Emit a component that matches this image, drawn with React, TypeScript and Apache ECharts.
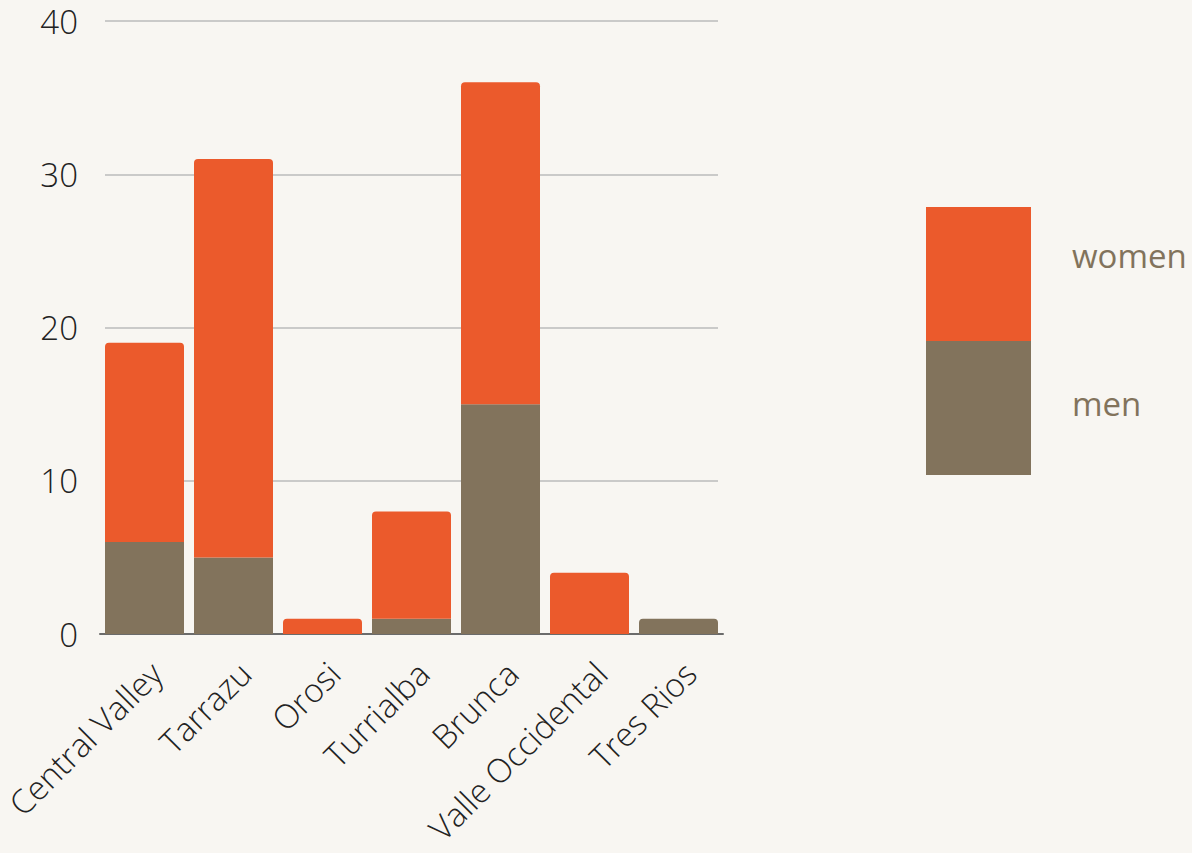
import React, { useEffect, useRef } from "react";
import * as echarts from "echarts";

const categories = ["Central Valley", "Tarrazu", "Orosi", "Turrialba", "Brunca", "Valle Occidental", "Tres Rios"];
const men = [6, 5, 0, 1, 15, 0, 1];
const women = [13, 26, 1, 7, 21, 4, 0];
const yTicks = [0, 10, 20, 30, 40];

const ORANGE = "#eb5a2c";
const BROWN = "#82735c";
const BG = "#f8f6f2";

export default function App() {
  const ref = useRef<HTMLDivElement>(null);
  useEffect(() => {
    document.body.style.margin = "0";
    document.body.style.background = BG;
    const chart = echarts.init(ref.current!, null, { renderer: "svg" });
    const menData = men.map((v, i) => ({
      value: v,
      itemStyle: { borderRadius: women[i] === 0 ? [4, 4, 0, 0] : 0 },
    }));
    const womenData = women.map((v) => ({ value: v, itemStyle: { borderRadius: [4, 4, 0, 0] } }));
    chart.setOption({
      animation: false,
      backgroundColor: BG,
      textStyle: { fontFamily: "Open Sans" },
      grid: [
        { left: 100, width: 623, top: 21, height: 613, outerBoundsMode: "none", containLabel: false },
        { left: 105, width: 613, top: 21, height: 613, outerBoundsMode: "none", containLabel: false },
      ],
      xAxis: [
        {
          type: "category",
          gridIndex: 0,
          data: categories,
          axisTick: { show: false },
          axisLine: { show: true, lineStyle: { color: "#6b6b6b", width: 2 } },
          axisLabel: {
            rotate: 45,
            margin: 22,
            fontSize: 33,
            fontWeight: 300,
            fontFamily: "Open Sans",
            color: "#222",
            interval: 0,
            verticalAlign: "top",
          },
        },
        { type: "value", gridIndex: 1, min: 0, max: 1, show: false },
      ],
      yAxis: [
        { type: "value", gridIndex: 0, min: 0, max: 40, interval: 10, show: false },
        {
          type: "value",
          gridIndex: 1,
          min: yTicks[0],
          max: yTicks[yTicks.length - 1],
          interval: 10,
          axisLine: { show: false },
          axisTick: { show: false },
          splitLine: { show: true, lineStyle: { color: "#bbbbbb", width: 1.5 } },
          axisLabel: {
            margin: 27,
            fontSize: 33,
            fontWeight: 300,
            fontFamily: "Open Sans",
            color: "#222",
          },
        },
      ],
      legend: {
        orient: "vertical",
        left: 926,
        top: 207,
        padding: 0,
        itemWidth: 105,
        itemHeight: 134,
        itemGap: 0,
        icon: "rect",
        selectedMode: false,
        textStyle: {
          color: BROWN,
          fontSize: 33,
          fontFamily: "Open Sans",
          padding: [0, 0, 0, 36],
          rich: {
            w: { color: BROWN, fontSize: 33, fontFamily: "Open Sans", lineHeight: 71, verticalAlign: "top" },
            m: { color: BROWN, fontSize: 33, fontFamily: "Open Sans", lineHeight: 43, verticalAlign: "top" },
          },
        },
        formatter: (name: string) => (name === "women" ? `{w|${name}}` : `{m|${name}}`),
        data: ["women", "men"],
      },
      series: [
        {
          name: "men",
          type: "bar",
          stack: "total",
          xAxisIndex: 0,
          yAxisIndex: 0,
          barCategoryGap: "11.24%",
          itemStyle: { color: BROWN },
          data: menData,
        },
        {
          name: "women",
          type: "bar",
          stack: "total",
          xAxisIndex: 0,
          yAxisIndex: 0,
          barCategoryGap: "11.24%",
          itemStyle: { color: ORANGE },
          data: womenData,
        },
      ],
    });
    return () => chart.dispose();
  }, []);
  return <div ref={ref} style={{ width: 1192, height: 853, background: BG }} />;
}
